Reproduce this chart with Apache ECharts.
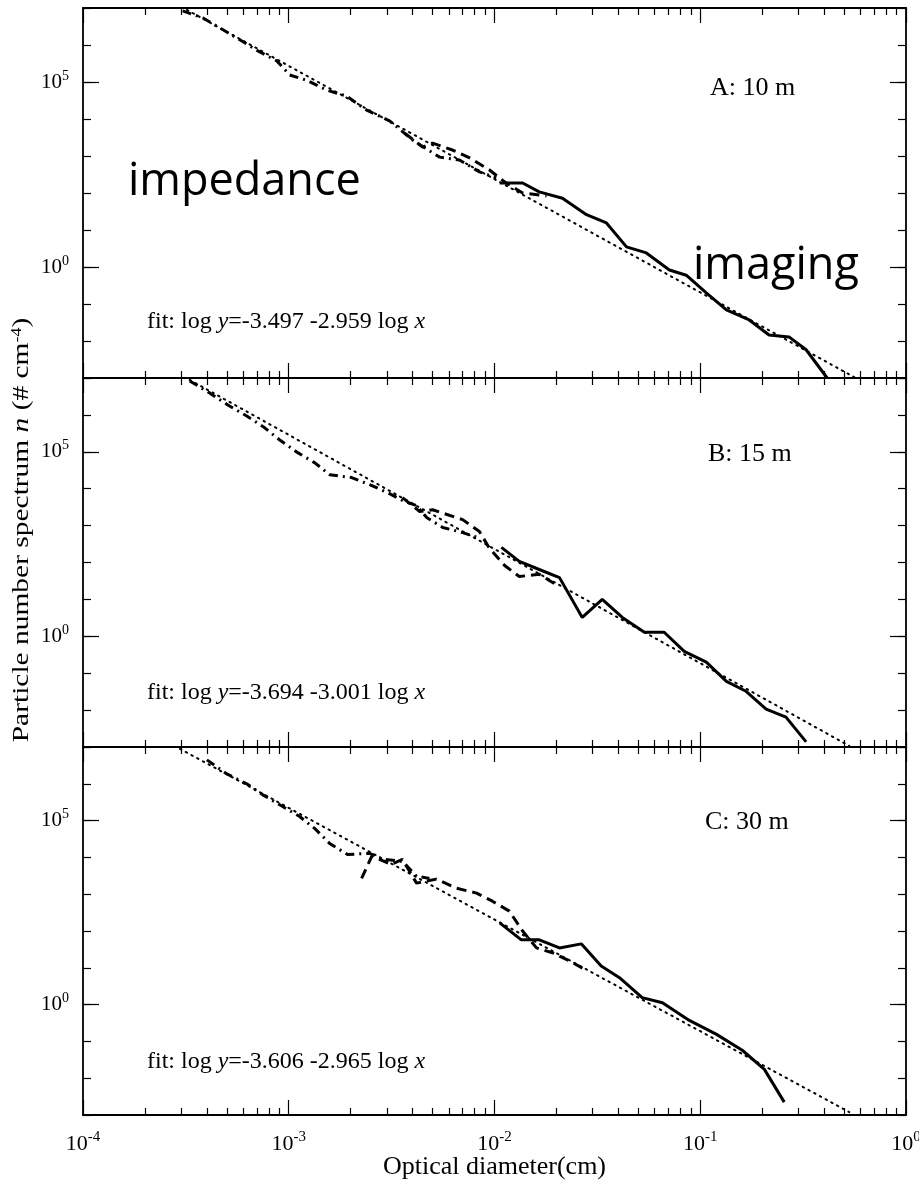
<!DOCTYPE html>
<html><head><meta charset="utf-8">
<script src="https://cdn.jsdelivr.net/npm/echarts@6/dist/echarts.min.js"></script>
<style>html,body{margin:0;padding:0;background:#fff}#c{width:919px;height:1186px}</style>
</head><body><div id="c"></div>
<script>
// ---------------- data ----------------
const panelLabels = ['A: 10 m', 'B: 15 m', 'C: 30 m'];
const fitIntercepts = ['-3.497', '-3.694', '-3.606'];
const fitSlopes = ['-2.959', '-3.001', '-2.965'];
const xMajorTicks = [1e-4, 1e-3, 1e-2, 1e-1, 1];
const xMinorTicks = [2e-4,3e-4,4e-4,5e-4,6e-4,7e-4,8e-4,9e-4,2e-3,3e-3,4e-3,5e-3,6e-3,7e-3,8e-3,9e-3,
  2e-2,3e-2,4e-2,5e-2,6e-2,7e-2,8e-2,9e-2,0.2,0.3,0.4,0.5,0.6,0.7,0.8,0.9];
const yMajorTicks = [1e-5, 1, 1e5, 1e10];
const yMinorTicks = [1e-3,1e-2,1e-1,1,1e1,1e2,1e3,1e4,1e5,1e6,1e7];
const yLabelValues = [1, 1e5];
const xRange = [1e-4, 1];
const yRange = [1e-3, 1e7];

// Panel A (10 m)
const fitA = [[3.2e-4, 8.9e6], [0.57, 1e-3]];
const dashDotA = [[3.05e-4,8.32e6],[3.83e-4,5.37e6],[4.79e-4,2.57e6],[5.78e-4,1.38e6],[7.08e-4,6.92e5],
  [8.75e-4,3.72e5],[1.01e-3,1.55e5],[1.22e-3,1.12e5],[1.53e-3,6.03e4],[1.91e-3,4.17e4],[2.39e-3,1.74e4],
  [3.09e-3,8.91e3],[4.00e-3,2.69e3],[5.41e-3,933],[6.76e-3,776],[8.45e-3,372],[1.02e-2,257]];
const dashedA = [[3.66e-3,4.17e3],[4.47e-3,1.74e3],[5.00e-3,2.24e3],[6.25e-3,1.45e3],[7.57e-3,891],
  [9.46e-3,417],[1.12e-2,200],[1.37e-2,100],[1.79e-2,83]];
const solidA = [[0.0106,186],[0.0137,186],[0.0165,107],[0.0214,72],[0.0280,26],[0.0350,15.5],[0.0438,3.5],
  [0.0547,2.4],[0.0708,0.83],[0.0855,0.60],[0.107,0.20],[0.134,0.069],[0.173,0.037],[0.216,0.0145],
  [0.270,0.0129],[0.327,0.0058],[0.414,0.001]];

// Panel B (15 m)
const fitB = [[3.3e-4, 8.9e6], [0.53, 1.07e-3]];
const dashDotB = [[3.30e-4,8.32e6],[4.14e-4,3.89e6],[5.06e-4,1.86e6],[6.25e-4,9.33e5],[7.64e-4,4.47e5],
  [9.04e-4,2.09e5],[1.11e-3,9.33e4],[1.34e-3,5.01e4],[1.58e-3,2.40e4],[2.02e-3,2.00e4],[2.47e-3,1.29e4],
  [3.03e-3,7.76e3],[3.57e-3,4.79e3],[4.18e-3,3.47e3],[4.68e-3,1.66e3],[5.60e-3,891],[7.00e-3,646],[8.26e-3,479]];
const dashedB = [[3.57e-3,5.75e3],[4.33e-3,2.40e3],[5.00e-3,2.69e3],[7.00e-3,1.45e3],[8.45e-3,692],
  [9.46e-3,240],[1.12e-2,83],[1.32e-2,41.7],[1.65e-2,47.9],[1.95e-2,26.9]];
const solidB = [[0.0108,257],[0.0132,107],[0.0165,64.6],[0.0207,38.9],[0.0267,3.24],[0.0334,10],[0.0418,3.24],
  [0.0535,1.29],[0.0668,1.29],[0.0836,0.389],[0.107,0.2],[0.134,0.0603],[0.167,0.0324],[0.209,0.0107],
  [0.261,0.00646],[0.327,0.00138]];

// Panel C (30 m)
const fitC = [[2.96e-4, 8.9e6], [0.53, 1.2e-3]];
const dashDotC = [[4.00e-4,4.47e6],[5.00e-4,1.86e6],[6.25e-4,1.0e6],[7.48e-4,5.01e5],[9.04e-4,2.69e5],
  [1.13e-3,1.29e5],[1.34e-3,6.03e4],[1.58e-3,2.40e4],[1.93e-3,1.20e4],[2.47e-3,1.29e4],[2.86e-3,8.91e3],
  [3.57e-3,7.76e3],[4.18e-3,3.09e3],[4.83e-3,2.69e3]];
const dashedC = [[2.26e-3,2.69e3],[2.53e-3,1.07e4],[3.16e-3,6.46e3],[3.57e-3,8.91e3],[4.18e-3,2.00e3],
  [5.22e-3,2.57e3],[6.55e-3,1.45e3],[8.18e-3,1.07e3],[9.77e-3,646],[1.18e-2,347],[1.37e-2,100],
  [1.60e-2,34.7],[1.91e-2,25.7],[2.31e-2,15.5],[2.82e-2,8.32]];
const solidC = [[0.0106,166],[0.0135,57.5],[0.0165,57.5],[0.0207,34.7],[0.0264,44.7],[0.0330,11.2],
  [0.0405,5.37],[0.0522,1.55],[0.0655,1.12],[0.0885,0.372],[0.120,0.155],[0.160,0.0575],[0.205,0.0174],
  [0.256,0.00224]];

// ---------------- chart ----------------
const SERIF = 'Liberation Serif, Times New Roman, serif';
const panels = [
  {fit: fitA, dd: dashDotA, da: dashedA, so: solidA},
  {fit: fitB, dd: dashDotB, da: dashedB, so: solidB},
  {fit: fitC, dd: dashDotC, da: dashedC, so: solidC}
];
const grids = [
  {left: 83, top: 8, width: 823, height: 370, outerBoundsMode: 'none', containLabel: false},
  {left: 83, top: 378, width: 823, height: 369, outerBoundsMode: 'none', containLabel: false},
  {left: 83, top: 747, width: 823, height: 368, outerBoundsMode: 'none', containLabel: false}
];
const powFmt = v => '{b|10}{s|' + Math.round(Math.log10(v)) + '}';
const richX = {b: {fontSize: 22, fontFamily: SERIF, color: '#000', lineHeight: 28},
               s: {fontSize: 15, fontFamily: SERIF, color: '#000', verticalAlign: 'top', lineHeight: 15}};
const richY = {b: {fontSize: 21, fontFamily: SERIF, color: '#000', lineHeight: 26},
               s: {fontSize: 14, fontFamily: SERIF, color: '#000', verticalAlign: 'top', lineHeight: 14}};

const xAxes = [], yAxes = [], series = [];
grids.forEach((g, p) => {
  const mk = (pos, major, labels) => ({
    type: 'log', logBase: 10, gridIndex: p, position: pos, min: xRange[0], max: xRange[1],
    axisLine: {show: major, onZero: false, lineStyle: {color: '#000', width: 1.8}},
    axisTick: {show: true, inside: true, length: major ? 15 : 7,
      customValues: major ? xMajorTicks : xMinorTicks, lineStyle: {color: '#000', width: 1.2}},
    axisLabel: {show: labels, customValues: xMajorTicks, formatter: powFmt, rich: richX, margin: 15,
      hideOverlap: false},
    splitLine: {show: false}, minorTick: {show: false},
    name: labels ? 'Optical diameter(cm)' : '', nameLocation: 'middle', nameGap: 39,
    nameMoveOverlap: false,
    nameTextStyle: {fontFamily: SERIF, fontSize: 26, color: '#000'}
  });
  xAxes.push(mk('bottom', true, p === 2), mk('bottom', false, false), mk('top', true, false), mk('top', false, false));
  const mky = (pos, major, labels) => ({
    type: 'log', logBase: 10, gridIndex: p, position: pos, min: yRange[0], max: yRange[1],
    axisLine: {show: major, onZero: false, lineStyle: {color: '#000', width: 1.8}},
    axisTick: {show: true, inside: true, length: major ? 16 : 8,
      customValues: major ? yMajorTicks : yMinorTicks, lineStyle: {color: '#000', width: 1.2}},
    axisLabel: {show: labels, customValues: yLabelValues, formatter: powFmt, rich: richY, margin: 14},
    splitLine: {show: false}, minorTick: {show: false}
  });
  yAxes.push(mky('left', true, true), mky('left', false, false), mky('right', true, false), mky('right', false, false));

  const pd = panels[p];
  const base = {type: 'line', xAxisIndex: 4 * p, yAxisIndex: 4 * p, showSymbol: false, symbol: 'none',
    clip: true, silent: true, animation: false};
  series.push(Object.assign({}, base, {name: 'fit', data: pd.fit,
    lineStyle: {color: '#000', width: 2, type: [1.5, 5], cap: 'round'}}));
  series.push(Object.assign({}, base, {name: 'impedance (small aperture)', data: pd.dd,
    lineStyle: {color: '#000', width: 3, type: [9, 5, 2, 5]}}));
  series.push(Object.assign({}, base, {name: 'impedance (large aperture)', data: pd.da,
    lineStyle: {color: '#000', width: 3, type: [10, 6]}}));
  series.push(Object.assign({}, base, {name: 'imaging', data: pd.so,
    lineStyle: {color: '#000', width: 3, type: 'solid'}}));
});

const fitCenters = [323, 694, 1063];
const labelCenters = [89, 455, 823];
const labelLefts = [710, 708, 705];
const graphic = [];
for (let p = 0; p < 3; p++) {
  graphic.push({type: 'text', left: labelLefts[p], top: labelCenters[p] - 14, silent: true,
    style: {text: panelLabels[p], font: '26px ' + SERIF, fill: '#000'}});
  graphic.push({type: 'text', left: 147, top: fitCenters[p] - 13, silent: true,
    style: {text: 'fit: log {i|y}=' + fitIntercepts[p] + ' ' + fitSlopes[p] + ' log {i|x}',
      font: '24px ' + SERIF, fill: '#000',
      rich: {i: {fontStyle: 'italic', fontSize: 24, fontFamily: SERIF}}}});
}
graphic.push({type: 'text', left: 128, top: 160, silent: true,
  style: {text: 'impedance', font: '45px "Open Sans", sans-serif', fill: '#000'}});
graphic.push({type: 'text', left: 693, top: 244, silent: true, z: 100,
  style: {text: 'imaging', font: '45px "Open Sans", sans-serif', fill: '#000'}});
graphic.push({type: 'text', x: 22, y: 530, rotation: Math.PI / 2, scaleX: 1.28, silent: true,
  style: {text: 'Particle number spectrum {i|n} (# cm{s|-4})', font: '23px ' + SERIF, fill: '#000',
    align: 'center', verticalAlign: 'middle',
    rich: {i: {fontStyle: 'italic', fontSize: 23, fontFamily: SERIF},
           s: {fontSize: 14, fontFamily: SERIF, verticalAlign: 'top'}}}});

const chart = echarts.init(document.getElementById('c'), null, {renderer: 'canvas'});
chart.setOption({
  backgroundColor: '#fff', animation: false,
  grid: grids, xAxis: xAxes, yAxis: yAxes, series: series, graphic: graphic
});
</script></body></html>
